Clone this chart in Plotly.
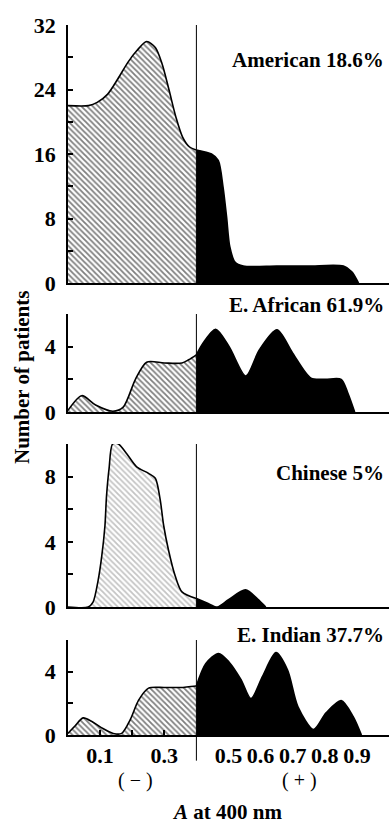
import plotly.graph_objects as go

# ---------------- data ----------------
THRESHOLD = 0.4          # A at 400 nm separating (-) and (+)
X_RANGE = [0.0, 1.0]

PANEL_LABELS = ["American 18.6%", "E. African 61.9%", "Chinese 5%", "E. Indian 37.7%"]

AMERICAN_X = [0.0, 0.064, 0.091, 0.123, 0.155, 0.187, 0.214, 0.245, 0.272, 0.293, 0.315, 0.336,
              0.357, 0.378, 0.4, 0.447, 0.468, 0.483, 0.494, 0.504, 0.52, 0.546, 0.65, 0.75,
              0.858, 0.884, 0.905]
AMERICAN_Y = [22.0, 22.0, 22.4, 23.4, 25.3, 27.4, 28.8, 29.95, 29.2, 27.2, 23.9, 20.6,
              18.1, 16.9, 16.5, 16.0, 15.2, 11.9, 8.2, 4.5, 2.6, 2.1, 2.1, 2.1,
              2.1, 1.4, 0.0]

AFRICAN_X = [0.0, 0.043, 0.086, 0.14, 0.172, 0.21, 0.245, 0.3, 0.355, 0.376, 0.4,
             0.42, 0.46, 0.502, 0.554, 0.596, 0.651, 0.7, 0.757, 0.8, 0.851, 0.872, 0.893]
AFRICAN_Y = [0.1, 1.0, 0.43, 0.05, 0.3, 2.0, 3.05, 3.0, 3.0, 3.2, 3.5,
             4.2, 5.07, 4.0, 2.2, 3.8, 5.03, 3.6, 2.07, 2.0, 2.0, 1.15, 0.0]

CHINESE_X = [0.0, 0.063, 0.078, 0.094, 0.105, 0.115, 0.12, 0.128, 0.139, 0.157, 0.183, 0.214,
             0.251, 0.272, 0.287, 0.298, 0.313, 0.334, 0.355, 0.4,
             0.433, 0.465, 0.5, 0.553, 0.59, 0.616]
CHINESE_Y = [0.0, 0.0, 0.3, 1.65, 3.1, 4.97, 6.8, 8.5, 10.0, 10.0, 9.4, 8.6,
             8.2, 7.9, 6.6, 5.0, 3.5, 1.9, 0.93, 0.52,
             0.25, 0.0, 0.45, 1.05, 0.5, 0.0]

INDIAN_X = [0.0, 0.021, 0.047, 0.073, 0.105, 0.141, 0.167, 0.194, 0.22, 0.251, 0.3, 0.35, 0.4,
            0.429, 0.469, 0.502, 0.539, 0.57, 0.606, 0.648, 0.684, 0.716, 0.765, 0.804,
            0.851, 0.888, 0.914]
INDIAN_Y = [0.1, 0.55, 1.08, 0.87, 0.45, 0.1, 0.1, 0.97, 2.2, 2.96, 3.0, 3.0, 3.1,
            4.5, 5.15, 4.6, 3.5, 2.3, 3.7, 5.2, 4.1, 1.8, 0.35, 1.4,
            2.18, 1.18, 0.0]

Y_MAX = [32, 6, 10, 6]
Y_TICKVALS = [[0, 4, 8, 12, 16, 20, 24, 28, 32], [0, 2, 4, 6], [0, 2, 4, 6, 8, 10], [0, 2, 4, 6]]
Y_TICKTEXT = [["0", "", "8", "", "16", "", "24", "", "32"], ["0", "", "4", ""],
              ["0", "", "4", "", "8", ""], ["0", "", "4", ""]]

X_TICKVALS = [0.1, 0.2, 0.3, 0.5, 0.6, 0.7, 0.8, 0.9]
X_TICKTEXT = ["0.1", "", "0.3", "0.5", "0.6", "0.7", "0.8", "0.9"]

SIGN_LABELS = ["( \u2212 )", "( + )"]
SIGN_X = [0.21, 0.72]

# ---------------- layout constants ----------------
W, H = 389, 823
ML, MR, MT, MB = 68, 0, 25, 88
PH = H - MT - MB
def py(p):  # pixel y -> paper y
    return (H - MB - p) / PH
def px(p):
    return (p - ML) / (W - ML - MR)

DOMAINS = [[py(283), py(25)], [py(412), py(314)], [py(607), py(444)], [py(735), py(640)]]
LABEL_Y = [py(60), py(305), py(473), py(635)]

SERIF = "Liberation Serif"
TICKFONT = dict(family=SERIF, size=22, color="black", weight="bold")

series = [(AMERICAN_X, AMERICAN_Y), (AFRICAN_X, AFRICAN_Y), (CHINESE_X, CHINESE_Y), (INDIAN_X, INDIAN_Y)]
hatch_colors = ["black", "black", "#8a8a8a", "black"]

fig = go.Figure()
shapes = []
annotations = []
layout = {}

for i, (xs, ys) in enumerate(series, start=1):
    xa = "x" if i == 1 else f"x{i}"
    ya = "y" if i == 1 else f"y{i}"
    neg = [(x, y) for x, y in zip(xs, ys) if x <= THRESHOLD]
    pos = [(x, y) for x, y in zip(xs, ys) if x >= THRESHOLD]
    line = dict(color="black", width=1.6, shape="spline", smoothing=0.8)
    fig.add_trace(go.Scatter(
        x=[p[0] for p in neg], y=[p[1] for p in neg], mode="lines", line=line,
        fill="tozeroy", fillcolor="white",
        fillpattern=dict(shape="\\", fgcolor=hatch_colors[i - 1], bgcolor="white", size=4, solidity=0.45),
        xaxis=xa, yaxis=ya, hoverinfo="skip", showlegend=False))
    fig.add_trace(go.Scatter(
        x=[p[0] for p in pos], y=[p[1] for p in pos], mode="lines", line=line,
        fill="tozeroy", fillcolor="black",
        xaxis=xa, yaxis=ya, hoverinfo="skip", showlegend=False))

    xkey = "xaxis" if i == 1 else f"xaxis{i}"
    ykey = "yaxis" if i == 1 else f"yaxis{i}"
    xdict = dict(domain=[0, 1], range=X_RANGE, anchor=ya, showline=True, linecolor="black",
                 linewidth=1.6, showgrid=False, zeroline=False, ticks="", showticklabels=False)
    if i == 4:
        xdict.update(ticks="inside", ticklen=5, tickwidth=1.5, tickcolor="black",
                     tickvals=X_TICKVALS, ticktext=X_TICKTEXT, showticklabels=True,
                     tickfont=TICKFONT)
    layout[xkey] = xdict
    layout[ykey] = dict(domain=DOMAINS[i - 1], range=[0, Y_MAX[i - 1]], anchor=xa, showline=True,
                        linecolor="black", linewidth=1.6, showgrid=False, zeroline=False,
                        ticks="inside", ticklen=5, tickwidth=1.5, tickcolor="black",
                        tickvals=Y_TICKVALS[i - 1], ticktext=Y_TICKTEXT[i - 1],
                        tickfont=TICKFONT, ticklabelstandoff=6)
    shapes.append(dict(type="line", xref=xa, yref=f"{ya} domain", x0=THRESHOLD, x1=THRESHOLD,
                       y0=(-0.27 if i == 4 else 0), y1=1, line=dict(color="black", width=1)))
    annotations.append(dict(text=PANEL_LABELS[i - 1], xref="paper", yref="paper",
                            x=px(386), y=LABEL_Y[i - 1], xanchor="right", yanchor="middle",
                            showarrow=False, font=dict(family=SERIF, size=21, color="black", weight="bold")))

for lab, sx in zip(SIGN_LABELS, SIGN_X):
    annotations.append(dict(text=lab, xref="x4", yref="paper", x=sx, y=py(781),
                            xanchor="center", yanchor="middle", showarrow=False,
                            font=dict(family=SERIF, size=20, color="black")))
annotations.append(dict(text="<i>A</i> at 400 nm", xref="paper", yref="paper", x=px(227), y=py(812),
                        xanchor="center", yanchor="middle", showarrow=False,
                        font=dict(family=SERIF, size=21, color="black", weight="bold")))
annotations.append(dict(text="Number of patients", xref="paper", yref="paper", x=px(22), y=py(378),
                        xanchor="center", yanchor="middle", textangle=-90, showarrow=False,
                        font=dict(family=SERIF, size=21, color="black", weight="bold")))

fig.update_layout(width=W, height=H, margin=dict(l=ML, r=MR, t=MT, b=MB),
                  paper_bgcolor="white", plot_bgcolor="white",
                  shapes=shapes, annotations=annotations, showlegend=False, **layout)
fig.write_html("out.html")
